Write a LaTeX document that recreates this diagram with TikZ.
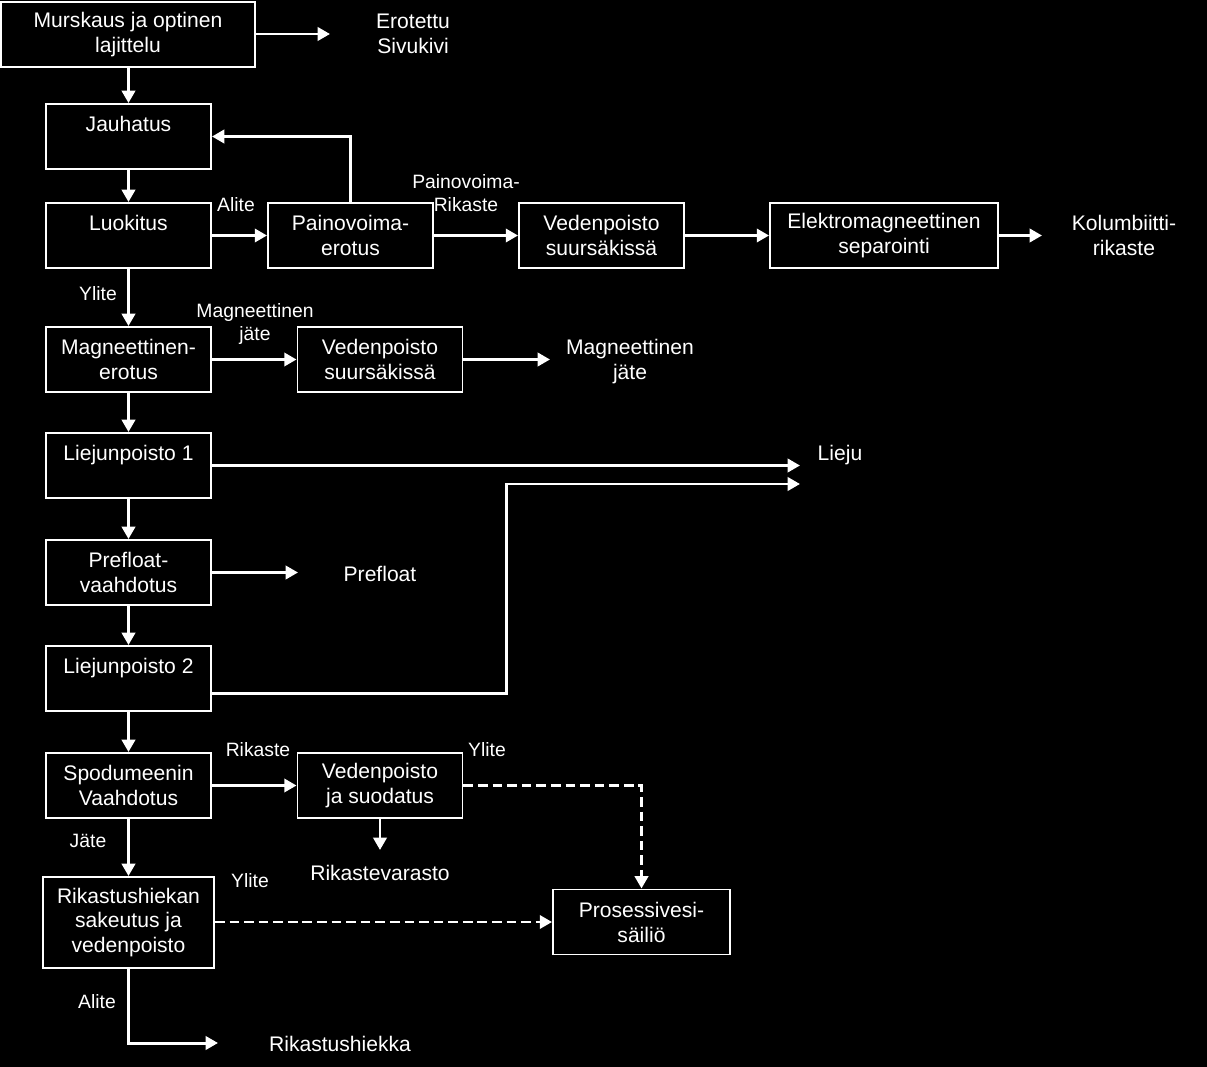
\documentclass[tikz,border=0pt]{standalone}
\usepackage{fontspec}
\setmainfont{Liberation Sans}
\usetikzlibrary{arrows.meta}
\tikzset{
	box/.style={draw=white, line width=1.1pt, fill=black, text=white, align=center, minimum width=3.3cm, minimum height=1.3cm, inner sep=0pt, font=\fontsize{12}{14.2}\selectfont},
	txt/.style={text=white, align=center, inner sep=0pt, font=\fontsize{12}{14.2}\selectfont},
	lbl/.style={text=white, align=center, inner sep=0pt, font=\fontsize{11}{13}\selectfont},
	flow/.style={draw=white, line width=1.7pt, -{Triangle[length=7pt,width=7.5pt]}},
	water/.style={flow, dash pattern=on 5.5pt off 2.8pt}
}

\begin{document}
\begin{tikzpicture}[x=0.02cm, y=-0.02cm]
			%%%%% START %%%%%
			
			\fill[black] (0, 0) rectangle (1207, 1067);
			
			\node[box, minimum width=5.08cm] (murs) at (128, 34.5) {Murskaus ja optinen\\lajittelu};
			\node[txt] (erot) at (413, 34) {Erotettu\\Sivukivi};
			\coordinate (erotIn) at (330, 34);
			
			\node[box] (jau) at (128.5, 136.5) {Jauhatus\\\mbox{}};
			\node[box] (luok) at (128.5, 235.5) {Luokitus\\\mbox{}};
			\node[box] (pv) at (350.5, 235.5) {Painovoima-\\erotus};
			\node[box] (ved1) at (601.5, 235.5) {Vedenpoisto\\suursäkissä};
			\node[box, minimum width=4.56cm] (elek) at (884, 235.5) {Elektromagneettinen\\separointi};
			\node[txt] (kolu) at (1124, 235) {Kolumbiitti-\\rikaste};
			\coordinate (koluIn) at (1042, 236);
			
			\node[box] (magn) at (128.5, 359.5) {Magneettinen-\\erotus};
			\node[box] (ved2) at (380, 359.5) {Vedenpoisto\\suursäkissä};
			\node[txt] (mjate) at (630, 362) {Magneettinen\\jäte};
			\coordinate (mjateIn) at (550, 361);
			
			\node[box] (lp1) at (128.5, 465.5) {Liejunpoisto 1\\\mbox{}};
			\node[txt] (lieju) at (840, 455) {Lieju};
			\coordinate (lieju1) at (800, 466);
			\coordinate (lieju2) at (800, 484);
			
			\node[box] (pref) at (128.5, 572.5) {Prefloat-\\vaahdotus};
			\node[txt] (preft) at (380, 574) {Prefloat};
			\coordinate (prefIn) at (298, 573);
			
			\node[box] (lp2) at (128.5, 678.5) {Liejunpoisto 2\\\mbox{}};
			
			\node[box] (spod) at (128.5, 785.5) {Spodumeenin\\Vaahdotus};
			\node[box] (ved3) at (380, 785.5) {Vedenpoisto\\ja suodatus};
			\node[txt] (varasto) at (380, 873) {Rikastevarasto};
			\coordinate (varastoIn) at (380, 850);
			
			\node[box, minimum width=3.42cm, minimum height=1.82cm] (hiek) at (128.5, 922.5) {Rikastushiekan\\sakeutus ja\\vedenpoisto};
			\node[box, minimum width=3.54cm] (pros) at (641.5, 922) {Prosessivesi-\\säiliö};
			\node[txt] (hiekt) at (340, 1044) {Rikastushiekka};
			\coordinate (hiekIn) at (218, 1043);
			
			\node[lbl] (l1) at (236, 205) {Alite};
			\node[lbl] (l2) at (466, 193) {Painovoima-\\Rikaste};
			\node[lbl] (l3) at (98, 294) {Ylite};
			\node[lbl] (l4) at (255, 324) {Magneettinen\\jäte};
			\node[lbl] (l5) at (258, 750) {Rikaste};
			\node[lbl] (l6) at (487, 750) {Ylite};
			\node[lbl] (l7) at (88, 841) {Jäte};
			\node[lbl] (l8) at (250, 881) {Ylite};
			\node[lbl] (l9) at (97, 1002) {Alite};
			
			\draw[flow] (murs.east |- erotIn) -- (erotIn);
			\draw[flow] (murs.south -| jau.north) -- (jau.north);
			\draw[flow] (jau) -- (luok);
			\draw[flow] (luok) -- (pv);
			\draw[flow] (pv.north) |- (jau.east);
			\draw[flow] (pv) -- (ved1);
			\draw[flow] (ved1) -- (elek);
			\draw[flow] (elek.east) -- (elek.east -| koluIn);
			
			\draw[flow] (luok) -- (magn);
			\draw[flow] (magn) -- (ved2);
			\draw[flow] (ved2.east) -- (ved2.east -| mjateIn);
			
			\draw[flow] (magn) -- (lp1);
			\draw[flow] (lp1.east) -- (lp1.east -| lieju1);
			\draw[flow] (lp1) -- (pref);
			\draw[flow] (pref.east) -- (pref.east -| prefIn);
			\draw[flow] (pref) -- (lp2);
			\draw[flow] ([yshift=-0.3cm]lp2.east) -- ++(295, 0) |- (lieju2);
			
			\draw[flow] (lp2) -- (spod);
			\draw[flow] (spod) -- (ved3);
			\draw[flow] (ved3.south) -- (varastoIn);
			\draw[water] (ved3.east) -| (pros.north);
			\draw[flow] (spod) -- (hiek);
			\draw[water] (hiek.east |- pros.west) -- (pros.west);
			\draw[flow] (hiek.south) |- (hiekIn);
			
			%%%%% END %%%%%
\end{tikzpicture}
\end{document}
